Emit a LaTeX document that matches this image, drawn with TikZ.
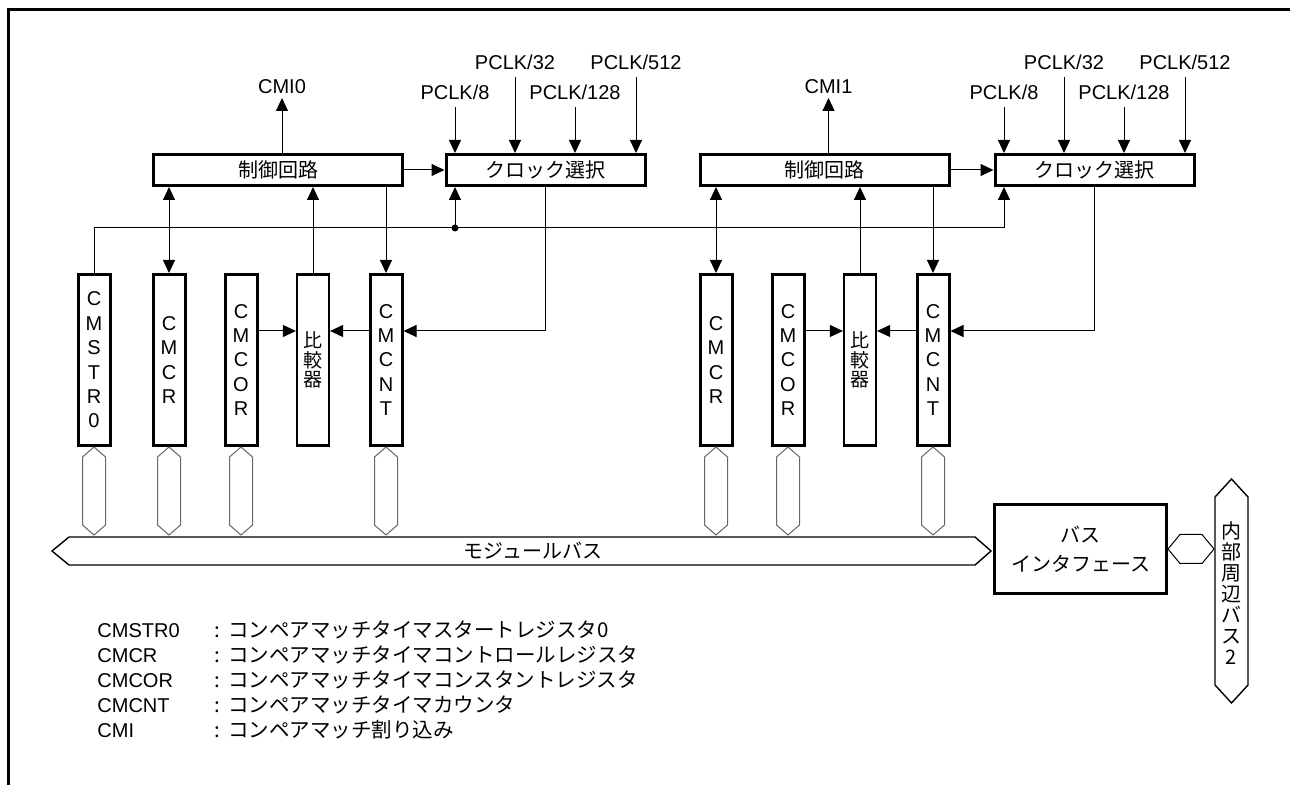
\documentclass[tikz,border=0pt]{standalone}
\usepackage{fontspec}
\setmainfont{Liberation Sans}
\newfontfamily\jp{Noto Sans CJK JP}
\usetikzlibrary{arrows.meta}

\begin{document}
\begin{tikzpicture}[
  x=0.5pt, y=-0.5pt,
  box/.style={draw, line width=1.5pt, minimum height=15.5pt,
              inner sep=0pt, font=\jp},
  reg/.style={draw, line width=1.5pt, minimum width=16pt,
              minimum height=85.5pt, inner sep=0pt, align=center,
              font=\fontsize{10}{12.2}\selectfont},
  lbl/.style={inner sep=0pt, outer sep=3.5pt, text depth=0pt, anchor=south},
  key/.style={anchor=base west, inner sep=0pt},
  arrow/.style={-{Triangle[length=6.5pt, width=6pt]}, line width=0.5pt},
  dblarrow/.style={{Triangle[length=6.5pt, width=6pt]}-{Triangle[length=6.5pt, width=6pt]},
                   line width=0.5pt},
  hexbus/.style={draw=black!60, line width=0.5pt, fill=white},
  bus/.style={draw, line width=0.7pt, fill=white},
]
  \useasboundingbox (0,0) rectangle (1290,785);
  % Frame (top and left edges only)
  \draw[line width=1.5pt] (8,785) -- (8,10) -- (1290,10);

  % Control and clock blocks
  \node[box, minimum width=124.5pt] (ctl1) at (278,170)    {制御回路};
  \node[box, minimum width=99.5pt]  (clk1) at (545.5,170)  {クロック選択};
  \node[box, minimum width=124.5pt] (ctl2) at (824.5,170)  {制御回路};
  \node[box, minimum width=99.5pt]  (clk2) at (1094.5,170) {クロック選択};

  % Registers, channel 0
  \node[reg] (str0) at (94,360)  {C\\M\\S\\T\\R\\0};
  \node[reg] (cr1)  at (169,360) {C\\M\\C\\R};
  \node[reg] (cor1) at (241,360) {C\\M\\C\\O\\R};
  \node[reg, line width=1.1pt, font=\jp\fontsize{9.5}{9.6}\selectfont] (cmp1) at (313,360) {比\\較\\器};
  \node[reg] (cnt1) at (386,360) {C\\M\\C\\N\\T};
  % Registers, channel 1
  \node[reg] (cr2)  at (716,360) {C\\M\\C\\R};
  \node[reg] (cor2) at (788,360) {C\\M\\C\\O\\R};
  \node[reg, line width=1.1pt, font=\jp\fontsize{9.5}{9.6}\selectfont] (cmp2) at (860,360) {比\\較\\器};
  \node[reg] (cnt2) at (933,360) {C\\M\\C\\N\\T};

  % Interrupt outputs and clock inputs
  \node[lbl, outer sep=2pt] (cmi0) at (282,98) {CMI0};
  \node[lbl, outer sep=2pt] (cmi1) at (828.5,98) {CMI1};
  \node[lbl] (pa8)   at (455,107) {PCLK/8};
  \node[lbl] (pa32)  at (515,77)  {PCLK/32};
  \node[lbl] (pa128) at (575,107) {PCLK/128};
  \node[lbl] (pa512) at (636,77)  {PCLK/512};
  \node[lbl] (pb8)   at (1004,107) {PCLK/8};
  \node[lbl] (pb32)  at (1064,77)  {PCLK/32};
  \node[lbl] (pb128) at (1124,107) {PCLK/128};
  \node[lbl] (pb512) at (1185,77)  {PCLK/512};

  \draw[arrow] (cmi0.south |- ctl1.north) -- (cmi0.south);
  \draw[arrow] (cmi1.south |- ctl2.north) -- (cmi1.south);
  \foreach \p/\c in {pa8/clk1, pa32/clk1, pa128/clk1, pa512/clk1,
                     pb8/clk2, pb32/clk2, pb128/clk2, pb512/clk2}
    \draw[arrow] (\p.south) -- (\p.south |- \c.north);

  % Control -> clock select
  \draw[arrow] (ctl1) -- (clk1);
  \draw[arrow] (ctl2) -- (clk2);

  % Start line from CMSTR0 to both clock selects
  \coordinate (j1) at (455,228);
  \coordinate (j2) at (1004,228);
  \draw[arrow] (str0.north) |- (j2) -- (j2 |- clk2.south);
  \draw[arrow] (j1) -- (j1 |- clk1.south);
  \fill (j1) circle (1.75pt);

  % Register <-> control connections
  \coordinate (h) at (0,331);
  \draw[dblarrow] (cr1.north) -- (cr1.north |- ctl1.south);
  \draw[arrow] (cmp1.north) -- (cmp1.north |- ctl1.south);
  \draw[arrow] (cnt1.north |- ctl1.south) -- (cnt1.north);
  \draw[arrow] (clk1.south) |- (cnt1.east |- h);
  \draw[arrow] (cnt1.west |- h) -- (cmp1.east |- h);
  \draw[arrow] (cor1.east |- h) -- (cmp1.west |- h);

  \draw[dblarrow] (cr2.north) -- (cr2.north |- ctl2.south);
  \draw[arrow] (cmp2.north) -- (cmp2.north |- ctl2.south);
  \draw[arrow] (cnt2.north |- ctl2.south) -- (cnt2.north);
  \draw[arrow] (clk2.south) |- (cnt2.east |- h);
  \draw[arrow] (cnt2.west |- h) -- (cmp2.east |- h);
  \draw[arrow] (cor2.east |- h) -- (cmp2.west |- h);

  % Module bus and its taps
  \draw[bus] (52,551) -- (69,537) -- (975,537) -- (991,551) -- (975,565) -- (69,565) -- cycle;
  \node[font=\jp] (mbus) at (533,551) {モジュールバス};
  \foreach \r in {str0,cr1,cor1,cnt1,cr2,cor2,cnt2}
    \draw[hexbus] (\r.south) -- ++(11.5,10) -- ++(0,68) -- ++(-11.5,10)
      -- ++(-11.5,-10) -- ++(0,-68) -- cycle;

  % Bus interface and internal bus
  \node[box, minimum width=86pt, minimum height=44.5pt, align=center,
        font=\jp\fontsize{10}{14.5}\selectfont] (bif) at (1080.5,549) {バス\\インタフェース};
  \draw[hexbus, draw=black] (bif.east) -- ++(12,-14.5) -- ++(22,0) -- ++(12,14.5)
    -- ++(-12,14.5) -- ++(-22,0) -- cycle;
  \draw[bus] (1215,497) -- (1231.5,479) -- (1248,497) -- (1248,685) -- (1231.5,703) -- (1215,685) -- cycle;
  \node[align=center, font=\jp\fontsize{10}{10.5}\selectfont] (ibus) at (1231.5,593)
    {内\\部\\周\\辺\\バ\\ス\\2};

  % Legend
  \node[key] (k1) at (97,637) {CMSTR0};
  \node[key] (k2) at (97,662) {CMCR};
  \node[key] (k3) at (97,687) {CMCOR};
  \node[key] (k4) at (97,712) {CMCNT};
  \node[key] (k5) at (97,737) {CMI};
  \node[key, font=\jp\fontsize{10.25}{12}\selectfont] (d1) at (214,637) {:\hspace{4pt}コンペアマッチタイマスタートレジスタ0};
  \node[key, font=\jp\fontsize{10.25}{12}\selectfont] (d2) at (214,662) {:\hspace{4pt}コンペアマッチタイマコントロールレジスタ};
  \node[key, font=\jp\fontsize{10.25}{12}\selectfont] (d3) at (214,687) {:\hspace{4pt}コンペアマッチタイマコンスタントレジスタ};
  \node[key, font=\jp\fontsize{10.25}{12}\selectfont] (d4) at (214,712) {:\hspace{4pt}コンペアマッチタイマカウンタ};
  \node[key, font=\jp\fontsize{10.25}{12}\selectfont] (d5) at (214,737) {:\hspace{4pt}コンペアマッチ割り込み};
\end{tikzpicture}
\end{document}
